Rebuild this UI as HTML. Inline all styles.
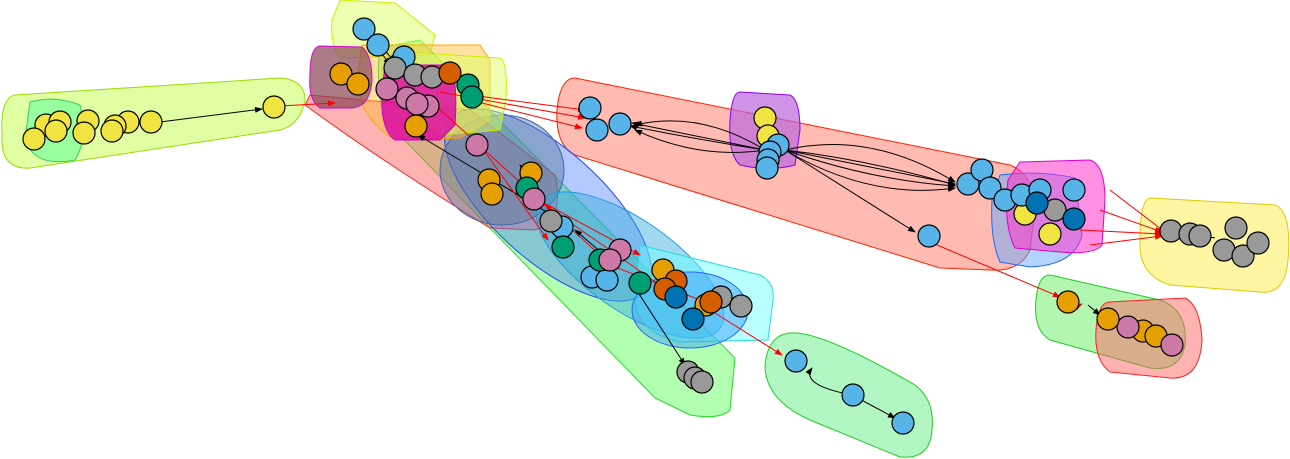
<!DOCTYPE html>
<html><head><meta charset="utf-8"><style>html,body{margin:0;padding:0;background:#fff}svg{display:block}</style></head>
<body>
<svg width="1290" height="459" viewBox="0 0 1290 459" xmlns="http://www.w3.org/2000/svg">
<defs>
<marker id="ab" markerWidth="8" markerHeight="8" refX="7" refY="3" orient="auto"><path d="M0,0L8,3L0,6z" fill="#000"/></marker>
<marker id="ar" markerWidth="8" markerHeight="8" refX="7" refY="3" orient="auto"><path d="M0,0L8,3L0,6z" fill="#f00"/></marker>
</defs>
<g stroke-width="1">
<!-- hulls -->
<path d="M15,95 L280,78 Q305,80 305,100 Q300,125 280,130 L30,168 Q0,170 2,135 Q0,98 15,95Z" fill="#ccff66" fill-opacity=".6" stroke="#99dd00"/>
<path d="M30,102 Q55,95 80,105 Q88,140 75,160 Q35,168 25,140Z" fill="#66ff99" fill-opacity=".6" stroke="#33cc66"/>
<path d="M575,78 L1010,165 Q1035,175 1035,210 L1030,250 Q1020,272 990,270 L940,268 L575,155 Q555,145 557,110 Q560,78 575,78Z" fill="#ff7766" fill-opacity=".5" stroke="#ff2200"/>
<path d="M740,92 L790,95 Q800,100 800,130 L795,165 Q770,172 740,165 Q728,155 730,120 Q732,92 740,92Z" fill="#bb66dd" fill-opacity=".7" stroke="#8800ff"/>
<path d="M1000,175 Q1040,170 1075,178 L1082,235 Q1075,265 1030,267 L1000,262 Q990,240 992,200Z" fill="#66aaff" fill-opacity=".5" stroke="#2266ff"/>
<path d="M1020,162 L1090,160 Q1105,165 1105,200 L1102,245 Q1095,255 1060,252 L1015,248 Q1003,225 1008,180Z" fill="#ff33cc" fill-opacity=".55" stroke="#dd00cc"/>
<path d="M1150,198 L1275,205 Q1292,212 1288,260 Q1285,295 1260,292 L1170,285 Q1138,275 1140,240 Q1140,200 1150,198Z" fill="#ffee66" fill-opacity=".6" stroke="#ddcc00"/>
<path d="M1050,275 L1160,300 Q1188,310 1185,345 Q1180,372 1150,368 L1050,340 Q1033,330 1036,300 Q1038,275 1050,275Z" fill="#66ee66" fill-opacity=".5" stroke="#22cc22"/>
<path d="M1110,302 L1185,298 Q1200,305 1202,340 Q1200,380 1170,378 L1110,372 Q1094,360 1096,330 Q1098,302 1110,302Z" fill="#ff6666" fill-opacity=".5" stroke="#ff2222"/>
<path d="M790,333 Q820,330 915,385 Q935,400 932,430 Q930,460 900,457 L810,420 Q765,400 765,365 Q768,335 790,333Z" fill="#66ee88" fill-opacity=".5" stroke="#22cc22"/>
<path d="M380,48 L420,40 L735,358 L730,410 Q720,420 690,415 L655,398 L385,120 Q375,90 380,48Z" fill="#66ff66" fill-opacity=".5" stroke="#22dd22"/>
<path d="M310,95 L470,110 L555,175 Q565,220 535,230 L490,228 Q380,160 305,105Z" fill="#ff6666" fill-opacity=".5" stroke="#ff2222"/>
<ellipse cx="548" cy="205" rx="130" ry="55" transform="rotate(42 548 205)" fill="#4477ff" fill-opacity=".4" stroke="#2244ff"/>
<ellipse cx="502" cy="170" rx="62" ry="55" fill="#557799" fill-opacity=".45" stroke="#4466aa"/>
<ellipse cx="630" cy="265" rx="110" ry="45" transform="rotate(35 630 265)" fill="#33aadd" fill-opacity=".45" stroke="#2299dd"/>
<path d="M640,245 L760,275 Q775,282 773,300 L768,340 L680,342 Q630,330 635,290Z" fill="#66ffff" fill-opacity=".45" stroke="#22dddd"/>
<ellipse cx="690" cy="310" rx="58" ry="38" fill="#3399ff" fill-opacity=".45" stroke="#2266ff"/>
<path d="M340,0 L395,3 L435,35 L430,55 L340,58 Q330,45 332,20Z" fill="#ddff66" fill-opacity=".5" stroke="#ccee00"/>
<path d="M362,45 L480,45 L490,60 L490,120 L460,138 L395,140 Q355,115 358,75Z" fill="#ffbb33" fill-opacity=".45" stroke="#ffaa00"/>
<path d="M405,52 L500,58 Q508,62 506,100 L500,130 L440,135 Q400,110 400,75Z" fill="#ddff66" fill-opacity=".5" stroke="#ccee00"/>
<path d="M320,46 L362,47 Q372,55 372,80 Q370,108 350,108 L320,108 Q308,100 310,75 Q310,47 320,46Z" fill="#884455" fill-opacity=".7" stroke="#dd00cc"/>
<path d="M385,65 L450,65 Q458,80 455,125 L440,140 L395,140 Q380,130 382,90Z" fill="#dd00aa" fill-opacity=".8" stroke="#cc00cc"/>
</g>
<!-- edges -->
<g fill="none" stroke="#000" stroke-width="1" marker-end="url(#ab)">
<path d="M160,122 L262,109"/>
<path d="M765,150 Q700,110 635,125"/><path d="M765,150 Q700,140 630,126"/><path d="M765,150 Q700,160 635,130"/><path d="M765,150 L632,123"/>
<path d="M785,150 Q870,160 955,185"/><path d="M785,150 Q870,180 955,186"/><path d="M785,150 L955,184"/><path d="M785,150 Q870,130 955,182"/><path d="M785,150 Q870,200 955,188"/>
<path d="M785,150 L915,232"/>
<path d="M852,395 Q800,385 812,368"/><path d="M852,395 L895,418"/>
<path d="M1088,305 L1100,315"/><path d="M1215,238 L1192,233"/>
<path d="M630,280 L685,365"/><path d="M540,190 L520,165"/><path d="M560,220 L418,135"/><path d="M610,260 L575,230"/>
<path d="M365,30 L390,65"/><path d="M380,45 L395,62"/><path d="M700,300 L710,305"/>
</g>
<g fill="none" stroke="#f00" stroke-width="1" marker-end="url(#ar)">
<path d="M280,106 L335,103"/><path d="M470,95 L585,110"/><path d="M470,100 L582,128"/><path d="M440,92 L585,118"/>
<path d="M930,242 L1060,297"/><path d="M710,310 L782,355"/>
<path d="M1110,190 L1165,232"/><path d="M1100,210 L1162,232"/><path d="M1080,230 L1162,234"/><path d="M1090,245 L1162,236"/>
<path d="M435,105 L600,255"/><path d="M480,145 L548,240"/><path d="M520,190 L640,255"/><path d="M660,285 L545,205"/><path d="M700,300 L610,265"/>
<path d="M1070,310 L1082,304"/>
</g>
<!-- nodes -->
<g stroke="#000" stroke-width="1.2">
<g fill="#F0E442">
<circle cx="46" cy="125" r="11"/><circle cx="60" cy="122" r="11"/><circle cx="88" cy="121" r="11"/><circle cx="128" cy="122" r="11"/><circle cx="115" cy="126" r="11"/><circle cx="151" cy="122" r="11"/><circle cx="34" cy="139" r="11"/><circle cx="56" cy="131" r="11"/><circle cx="84" cy="133" r="11"/><circle cx="112" cy="131" r="11"/><circle cx="274" cy="107" r="11"/>
<circle cx="765" cy="118" r="11"/><circle cx="768" cy="136" r="11"/><circle cx="1025" cy="214" r="11"/><circle cx="1050" cy="234" r="11"/>
</g>
<g fill="#56B4E9">
<circle cx="364" cy="29" r="11"/><circle cx="378" cy="45" r="11"/><circle cx="404" cy="57" r="11"/>
<circle cx="590" cy="108" r="11"/><circle cx="597" cy="130" r="11"/><circle cx="620" cy="124" r="11"/>
<circle cx="778" cy="145" r="11"/><circle cx="770" cy="152" r="11"/><circle cx="768" cy="160" r="11"/><circle cx="767" cy="168" r="11"/>
<circle cx="968" cy="184" r="11"/><circle cx="982" cy="170" r="11"/><circle cx="990" cy="188" r="11"/><circle cx="1005" cy="200" r="11"/><circle cx="1022" cy="195" r="11"/><circle cx="1040" cy="190" r="11"/><circle cx="1074" cy="190" r="11"/><circle cx="929" cy="236" r="11"/>
<circle cx="562" cy="227" r="11"/><circle cx="592" cy="277" r="11"/><circle cx="607" cy="280" r="11"/>
<circle cx="796" cy="361" r="11"/><circle cx="853" cy="395" r="11"/><circle cx="903" cy="423" r="11"/>
</g>
<g fill="#999">
<circle cx="395" cy="68" r="11"/><circle cx="415" cy="75" r="11"/><circle cx="432" cy="77" r="11"/>
<circle cx="551" cy="221" r="11"/><circle cx="721" cy="297" r="11"/><circle cx="741" cy="306" r="11"/>
<circle cx="688" cy="372" r="11"/><circle cx="695" cy="378" r="11"/><circle cx="702" cy="382" r="11"/>
<circle cx="1171" cy="231" r="11"/><circle cx="1190" cy="234" r="11"/><circle cx="1200" cy="236" r="11"/><circle cx="1236" cy="228" r="11"/><circle cx="1224" cy="250" r="11"/><circle cx="1243" cy="256" r="11"/><circle cx="1258" cy="243" r="11"/><circle cx="1055" cy="210" r="11"/>
</g>
<g fill="#E69F00">
<circle cx="341" cy="74" r="11"/><circle cx="358" cy="84" r="11"/><circle cx="416" cy="126" r="11"/>
<circle cx="489" cy="180" r="11"/><circle cx="492" cy="194" r="11"/><circle cx="531" cy="173" r="11"/>
<circle cx="663" cy="270" r="11"/><circle cx="706" cy="305" r="11"/>
<circle cx="1068" cy="302" r="11"/><circle cx="1143" cy="331" r="11"/><circle cx="1156" cy="336" r="11"/>
</g>
<g fill="#009E73">
<circle cx="468" cy="85" r="11"/><circle cx="472" cy="97" r="11"/><circle cx="527" cy="188" r="11"/><circle cx="563" cy="247" r="11"/><circle cx="640" cy="283" r="11"/><circle cx="600" cy="260" r="11"/>
</g>
<g fill="#D55E00">
<circle cx="450" cy="73" r="11"/><circle cx="676" cy="281" r="11"/><circle cx="665" cy="289" r="11"/><circle cx="711" cy="302" r="11"/>
</g>
<g fill="#CC79A7">
<circle cx="387" cy="89" r="11"/><circle cx="407" cy="98" r="11"/><circle cx="428" cy="106" r="11"/><circle cx="417" cy="104" r="11"/><circle cx="477" cy="145" r="11"/><circle cx="534" cy="199" r="11"/><circle cx="620" cy="250" r="11"/><circle cx="610" cy="260" r="11"/>
<circle cx="1128" cy="327" r="11"/><circle cx="1172" cy="345" r="11"/>
</g>
<g fill="#0072B2">
<circle cx="1037" cy="203" r="11"/><circle cx="1074" cy="219" r="11"/><circle cx="676" cy="297" r="11"/><circle cx="693" cy="319" r="11"/>
</g>
<circle cx="1108" cy="319" r="11" fill="#E69F00"/>
</g>
</svg>
</body></html>
